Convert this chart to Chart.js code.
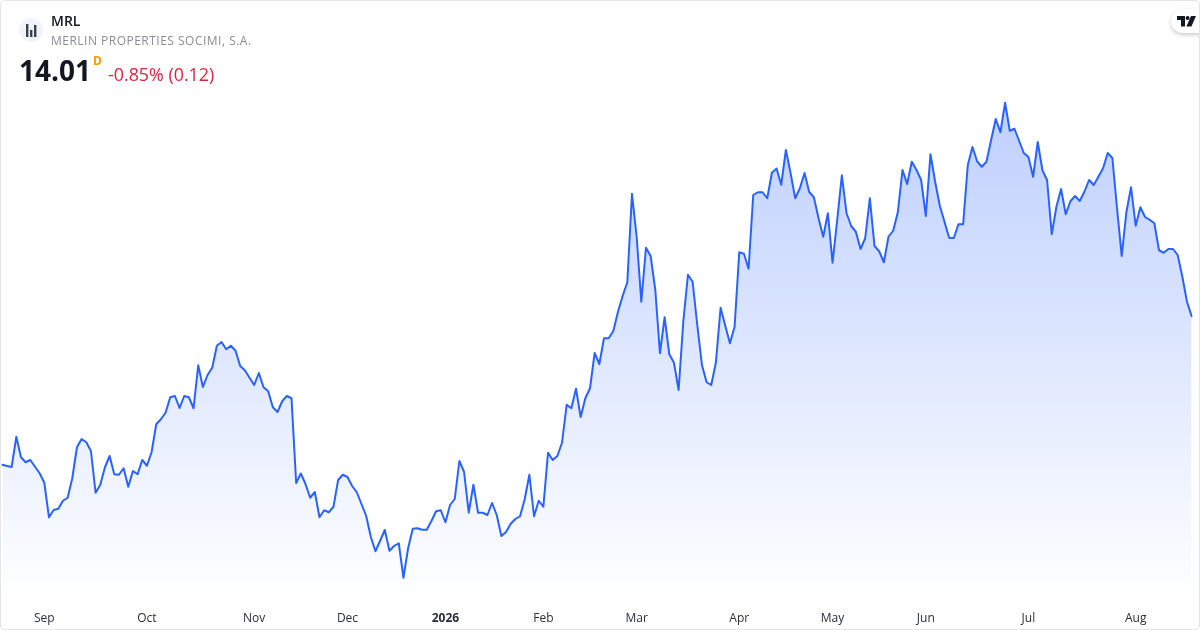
<!DOCTYPE html>
<html>
<head>
<meta charset="utf-8">
<title>MRL</title>
<script src="https://cdn.jsdelivr.net/npm/chart.js@4"></script>
<style>
html,body{margin:0;padding:0;background:#fff;width:1200px;height:630px;overflow:hidden;font-family:"Open Sans",sans-serif;}
#wrap{position:absolute;left:0;top:0;width:1200px;height:630px;}
#c{position:absolute;left:0;top:0;width:1200px;height:630px;}
#frame{position:absolute;left:0;top:0;width:1198px;height:628px;border:1px solid #e6e6e6;border-radius:4px;pointer-events:none;}
.t{position:absolute;white-space:nowrap;line-height:1;}
#icon{position:absolute;left:19px;top:18px;width:24px;height:24px;border-radius:50%;background:#f0f3fa;}
#badge{position:absolute;left:1171px;top:9px;width:40px;height:24px;border-radius:12px 0 0 12px;background:#fff;box-shadow:0 2px 4px rgba(0,0,0,.2);}
</style>
</head>
<body>
<div id="wrap">
<canvas id="c" width="1200" height="630"></canvas>
<div id="icon"><svg width="24" height="24" viewBox="0 0 24 24"><g fill="#3a3f4b"><rect x="7" y="6" width="2.4" height="13"/><rect x="11" y="12" width="2.4" height="7"/><rect x="15" y="7" width="2.4" height="12"/></g></svg></div>
<div class="t" style="left:51px;top:14px;font-size:14px;font-weight:600;color:#131722;">MRL</div>
<div class="t" style="left:51px;top:35px;font-size:12px;color:#8a8d96;letter-spacing:.49px;">MERLIN PROPERTIES SOCIMI, S.A.</div>
<div class="t" style="left:19px;top:56px;font-size:28px;font-weight:700;color:#131722;">14.01</div>
<div class="t" style="left:93px;top:55px;font-size:12px;font-weight:700;color:#ff9800;">D</div>
<div class="t" style="left:108px;top:66px;font-size:17.85px;color:#d9253f;">-0.85% (0.12)</div>
<div id="badge"><svg style="position:absolute;left:6px;top:7px" width="19" height="11" viewBox="0 0 19 11"><path fill="#131722" d="M0 0h8v10.5H4V4H0z"/><circle cx="10.6" cy="2" r="2" fill="#131722"/><path fill="#131722" d="M14 0h5l-4.6 10.5H9.4z"/></svg></div>
<div id="frame"></div>
</div>
<script>
const prices = [
12.822,12.812,12.804,13.046,12.882,12.842,12.86,12.806,12.754,12.678,
12.402,12.46,12.47,12.534,12.558,12.714,12.962,13.028,13.002,12.932,
12.598,12.662,12.802,12.892,12.746,12.742,12.794,12.646,12.772,12.746,
12.86,12.814,12.922,13.146,13.186,13.238,13.362,13.372,13.276,13.372,
13.362,13.274,13.618,13.444,13.54,13.598,13.774,13.804,13.746,13.774,
13.734,13.612,13.578,13.518,13.46,13.556,13.442,13.41,13.282,13.244,
13.33,13.372,13.354,12.676,12.752,12.668,12.558,12.604,12.402,12.458,
12.442,12.486,12.70,12.742,12.724,12.652,12.602,12.508,12.414,12.246,
12.13,12.214,12.30,12.134,12.172,12.194,11.918,12.154,12.31,12.314,
12.302,12.302,12.372,12.45,12.458,12.362,12.50,12.548,12.852,12.764,
12.438,12.662,12.438,12.438,12.42,12.516,12.42,12.252,12.284,12.35,
12.388,12.41,12.546,12.742,12.41,12.534,12.486,12.918,12.86,12.892,
12.998,13.302,13.274,13.43,13.204,13.354,13.434,13.716,13.628,13.834,
13.834,13.892,14.046,14.172,14.282,14.99,14.646,14.126,14.558,14.492,
14.22,13.714,14.002,13.706,13.638,13.42,13.966,14.342,14.286,13.94,
13.62,13.482,13.46,13.642,14.078,13.934,13.794,13.926,14.522,14.51,
14.39,14.98,15.002,15.002,14.954,15.158,15.192,15.062,15.34,15.156,
14.954,15.034,15.156,15.004,14.962,14.794,14.646,14.834,14.438,14.78,
15.138,14.834,14.732,14.686,14.548,14.634,14.954,14.572,14.53,14.442,
14.646,14.694,14.842,15.18,15.068,15.246,15.18,15.10,14.812,15.306,
15.086,14.894,14.766,14.638,14.636,14.746,14.746,15.22,15.364,15.25,
15.206,15.246,15.42,15.588,15.482,15.718,15.494,15.51,15.414,15.316,
15.284,15.126,15.404,15.178,15.10,14.666,14.886,15.028,14.826,14.93,
14.972,14.932,15.006,15.10,15.06,15.126,15.194,15.316,15.276,14.874,
14.492,14.842,15.042,14.734,14.882,14.804,14.782,14.754,14.538,14.518,
14.548,14.548,14.50,14.326,14.126,14.01
];
const sessionIndex = prices.map((_, i) => i);
const tickLabels = ["Sep","Oct","Nov","Dec","2026","Feb","Mar","Apr","May","Jun","Jul","Aug"];
const tickSessions = [9,31,54,74,95,116,136,158,178,198,220,243];
const boldTick = "2026";
const yMin = 11.708, yMax = 16.54;

new Chart(document.getElementById('c').getContext('2d'), {
  type: 'line',
  data: {
    labels: sessionIndex,
    datasets: [{
      data: prices,
      borderColor: '#2962ff',
      borderWidth: 2,
      borderJoinStyle: 'round',
      borderCapStyle: 'round',
      tension: 0,
      pointRadius: 0,
      fill: 'start',
      backgroundColor(ctx) {
        const a = ctx.chart.chartArea;
        if (!a) return 'rgba(41,98,255,0.15)';
        const g = ctx.chart.ctx.createLinearGradient(0, 100, 0, a.bottom - 2);
        g.addColorStop(0, 'rgba(41,98,255,0.3)');
        g.addColorStop(1, 'rgba(41,98,255,0)');
        return g;
      }
    }]
  },
  options: {
    responsive: false,
    devicePixelRatio: 1,
    animation: false,
    layout: { padding: { left: 2.33, right: 8.33, top: 0, bottom: 0 } },
    plugins: { legend: { display: false }, tooltip: { enabled: false } },
    scales: {
      y: { display: false, min: yMin, max: yMax },
      x: {
        offset: false,
        grid: { display: false, drawTicks: false },
        border: { display: false },
        afterFit(s) { s.height = 26; },
        afterBuildTicks(s) { s.ticks = tickSessions.map(v => ({ value: v })); },
        ticks: {
          autoSkip: false, maxRotation: 0, minRotation: 0, padding: 7,
          color: '#2a2e39',
          callback(v, i) { return tickLabels[i]; },
          font(ctx) {
            return { family: '"Open Sans"', size: 12, weight: tickLabels[ctx.index] === boldTick ? '700' : '400' };
          }
        }
      }
    }
  }
});
</script>
</body>
</html>
